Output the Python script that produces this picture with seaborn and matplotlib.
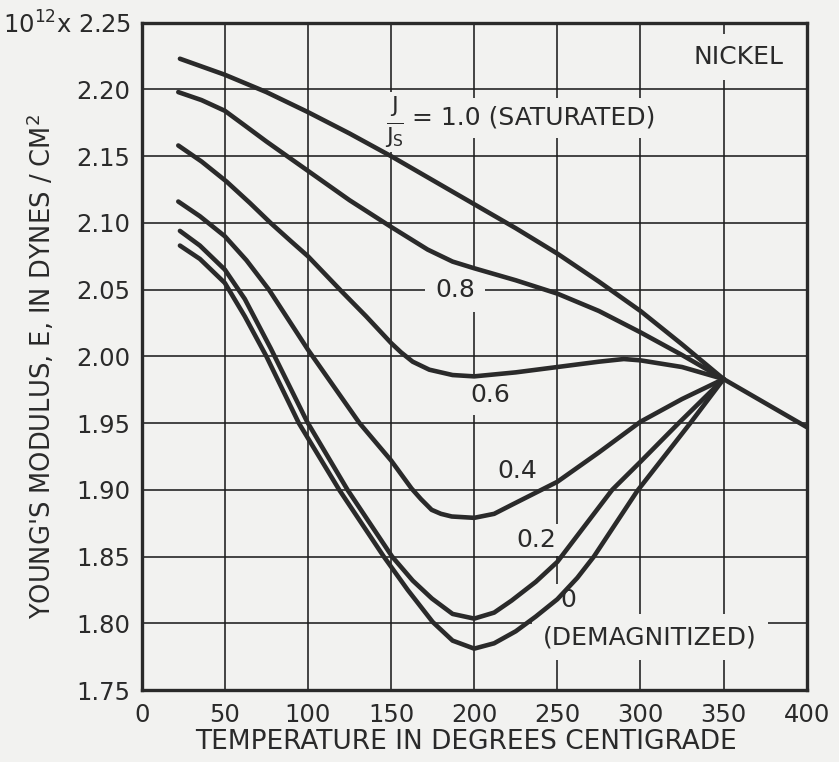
import matplotlib
matplotlib.use("Agg")
import matplotlib.pyplot as plt
import seaborn as sns
import pandas as pd

# ---------------- data ----------------
T_10 = [23, 50, 75, 100, 125, 150, 175, 200, 225, 250, 275, 300, 325, 350, 375, 400]
E_10 = [2.223, 2.211, 2.198, 2.183, 2.167, 2.150, 2.132, 2.114, 2.096, 2.077, 2.056, 2.034, 2.009, 1.983, 1.965, 1.947]

T_08 = [22, 36, 50, 62, 75, 100, 125, 150, 172, 187, 200, 225, 250, 275, 300, 325, 350]
E_08 = [2.198, 2.192, 2.184, 2.173, 2.161, 2.139, 2.117, 2.097, 2.080, 2.071, 2.066, 2.057, 2.047, 2.034, 2.018, 2.001, 1.983]

T_06 = [22, 36, 51, 65, 77.5, 90, 100, 110, 120, 135, 150, 156, 163, 173, 187, 200, 225, 250, 275, 290, 300, 325, 350]
E_06 = [2.158, 2.146, 2.131, 2.115, 2.100, 2.086, 2.075, 2.062, 2.049, 2.030, 2.010, 2.003, 1.996, 1.990, 1.986, 1.985, 1.988, 1.992, 1.996, 1.998, 1.997, 1.992, 1.983]

T_04 = [22, 35, 50, 63, 76.5, 88, 100, 131, 150, 162.3, 168, 174.4, 180, 186.5, 200, 212, 223, 250, 275, 300, 325, 350]
E_04 = [2.116, 2.105, 2.090, 2.072, 2.050, 2.028, 2.005, 1.950, 1.922, 1.901, 1.893, 1.885, 1.882, 1.880, 1.879, 1.882, 1.889, 1.906, 1.928, 1.951, 1.968, 1.983]

T_02 = [23, 35, 50, 62, 77.6, 99.5, 123.8, 150.6, 163, 174.6, 187, 200, 212, 222.5, 237, 250, 283, 300, 323, 350]
E_02 = [2.094, 2.083, 2.065, 2.043, 2.006, 1.951, 1.900, 1.850, 1.832, 1.8185, 1.807, 1.8035, 1.808, 1.817, 1.831, 1.846, 1.900, 1.921, 1.950, 1.983]

T_00 = [23, 35, 50, 62, 75, 94.5, 118.8, 145.6, 160, 175, 187, 200, 212, 225, 237, 250, 262, 272, 298, 330, 350]
E_00 = [2.083, 2.073, 2.055, 2.030, 2.000, 1.950, 1.900, 1.850, 1.825, 1.801, 1.787, 1.781, 1.785, 1.794, 1.805, 1.818, 1.834, 1.850, 1.899, 1.950, 1.983]

series_names = ["1.0", "0.8", "0.6", "0.4", "0.2", "0"]
x_ticks = [0, 50, 100, 150, 200, 250, 300, 350, 400]
x_tick_labels = ["0", "50", "100", "150", "200", "250", "300", "350", "400"]
y_ticks = [1.75, 1.80, 1.85, 1.90, 1.95, 2.00, 2.05, 2.10, 2.15, 2.20, 2.25]
y_tick_labels = ["1.75", "1.80", "1.85", "1.90", "1.95", "2.00", "2.05", "2.10",
                 "2.15", "2.20", "10$^{12}$x 2.25"]

# ---------------- build long table ----------------
frames = []
for name, t, e in zip(series_names,
                      [T_10, T_08, T_06, T_04, T_02, T_00],
                      [E_10, E_08, E_06, E_04, E_02, E_00]):
    frames.append(pd.DataFrame({"T": t, "E": e, "J": name}))
df = pd.concat(frames, ignore_index=True)

# ---------------- style ----------------
BG = "#f2f2f0"
INK = "#2a2a2a"
sns.set_theme(style="white")
plt.rcParams["font.family"] = ["DejaVu Sans"]
plt.rcParams["mathtext.default"] = "regular"

W, H = 839, 762
fig = plt.figure(figsize=(W / 100, H / 100), dpi=100, facecolor=BG)
L, R, T, B = 141.7, 806.7, 22.7, 690.0
ax = fig.add_axes([L / W, 1 - B / H, (R - L) / W, (B - T) / H])
ax.set_facecolor(BG)

sns.lineplot(data=df, x="T", y="E", hue="J", units="J", estimator=None, sort=False,
             palette={n: INK for n in series_names}, linewidth=3.3, legend=False,
             ax=ax, zorder=4, solid_capstyle="round", solid_joinstyle="round")

ax.set_xlim(0, 400)
ax.set_ylim(1.75, 2.25)
ax.set_xticks(x_ticks)
ax.set_xticklabels(x_tick_labels)
ax.set_yticks(y_ticks)
ax.set_yticklabels(y_tick_labels)
ax.tick_params(length=0, labelsize=17.5, colors=INK, pad=8)
ax.tick_params(axis="x", pad=9)
ax.grid(True, color="#1e1e1e", linewidth=1.15, zorder=1)
ax.set_axisbelow(True)
for s in ax.spines.values():
    s.set_color(INK)
    s.set_linewidth(2.4)
ax.set_xlabel("")
ax.set_ylabel("")

# pixel -> data helper for annotation placement
def pd_(px, py):
    return ((px - L) / (R - L) * 400.0, 2.25 - (py - T) / (B - T) * 0.5)

def lab(px, py, s, ha="center", size=18, pad=3):
    x, y = pd_(px, py)
    ax.text(x, y, s, ha=ha, va="center", fontsize=size, color=INK, zorder=3,
            bbox=dict(facecolor=BG, edgecolor="none", pad=pad))

lab(739, 57, "NICKEL", pad=8)
lab(395, 122, r"$\frac{\mathregular{J}}{\mathregular{J}_{\mathregular{S}}}$", size=23, pad=2)
lab(412, 118, "= 1.0 (SATURATED)", ha="left", pad=6)
lab(455, 290, "0.8", pad=7)
lab(490, 395, "0.6", pad=6)
lab(517, 471, "0.4", pad=3)
lab(536, 540, "0.2", pad=3)
lab(568, 600, "0", pad=3)
lab(650, 637, "(DEMAGNITIZED)", pad=8)

fig.text(466 / W, 1 - 742 / H, "TEMPERATURE IN DEGREES CENTIGRADE",
         ha="center", va="center", fontsize=19, color=INK)
fig.text(41 / W, 1 - 366 / H, "YOUNG'S MODULUS, E, IN DYNES / CM$^2$",
         ha="center", va="center", rotation=90, fontsize=18.5, color=INK)

fig.savefig("out.png", dpi=100, facecolor=BG)
